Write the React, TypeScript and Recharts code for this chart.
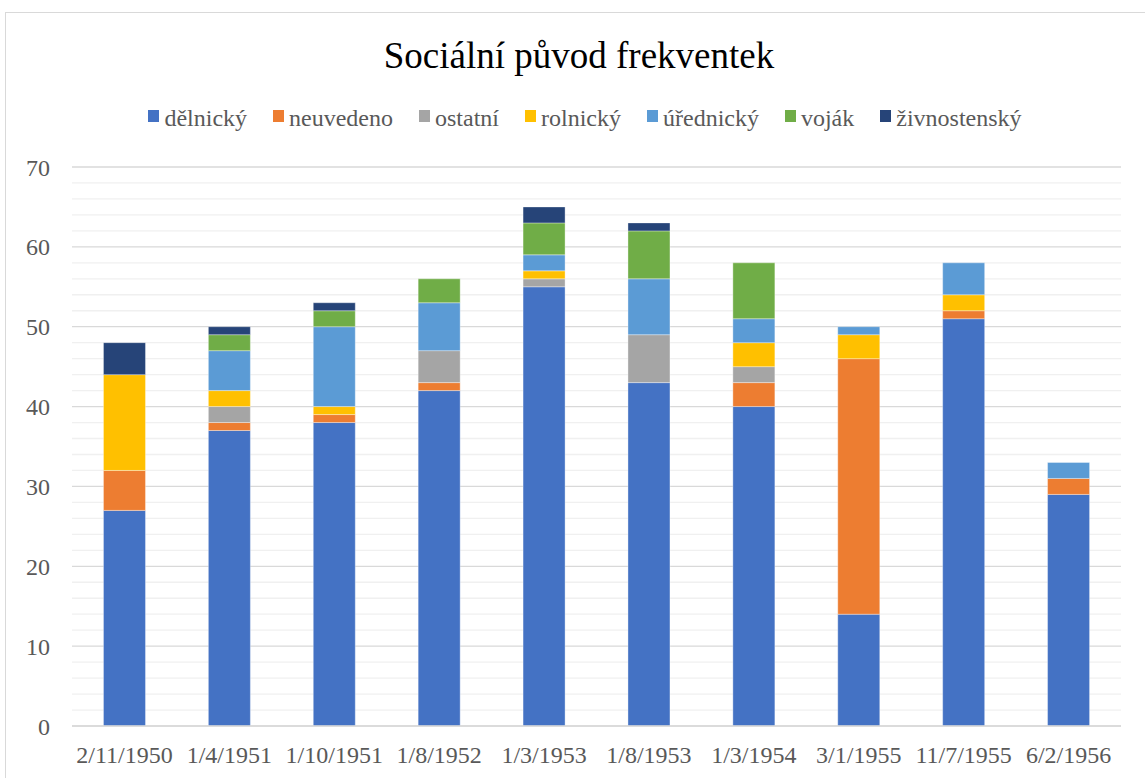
import React from 'react';
import { BarChart, Bar, XAxis, YAxis, CartesianGrid } from 'recharts';

const categories = ['2/11/1950', '1/4/1951', '1/10/1951', '1/8/1952', '1/3/1953', '1/8/1953', '1/3/1954', '3/1/1955', '11/7/1955', '6/2/1956'];
const delnicky = [27, 37, 38, 42, 55, 43, 40, 14, 51, 29];
const neuvedeno = [5, 1, 1, 1, 0, 0, 3, 32, 1, 2];
const ostatni = [0, 2, 0, 4, 1, 6, 2, 0, 0, 0];
const rolnicky = [12, 2, 1, 0, 1, 0, 3, 3, 2, 0];
const urednicky = [0, 5, 10, 6, 2, 7, 3, 1, 4, 2];
const vojak = [0, 2, 2, 3, 4, 6, 7, 0, 0, 0];
const zivnostensky = [4, 1, 1, 0, 2, 1, 0, 0, 0, 0];

const yTicks = [0, 2, 4, 6, 8, 10, 12, 14, 16, 18, 20, 22, 24, 26, 28, 30, 32, 34, 36, 38, 40, 42, 44, 46, 48, 50, 52, 54, 56, 58, 60, 62, 64, 66, 68, 70];

const seriesNames = ['dělnický', 'neuvedeno', 'ostatní', 'rolnický', 'úřednický', 'voják', 'živnostenský'];
const seriesKeys = ['delnicky', 'neuvedeno', 'ostatni', 'rolnicky', 'urednicky', 'vojak', 'zivnostensky'];
const seriesColors = ['#4472C4', '#ED7D31', '#A5A5A5', '#FFC000', '#5B9BD5', '#70AD47', '#264478'];
const seriesValues = [delnicky, neuvedeno, ostatni, rolnicky, urednicky, vojak, zivnostensky];

const FONT = "'Liberation Serif', 'Times New Roman', serif";

const gridLine = (props: any) => {
  const v = yTicks[props.index];
  const major = v !== undefined && v % 10 === 0;
  return (
    <line
      key={`g-${props.index}`}
      x1={props.x1}
      y1={props.y1}
      x2={props.x2}
      y2={props.y2}
      stroke={major ? '#d9d9d9' : '#f0f0f0'}
      strokeWidth={major ? 1.3 : 1.3}
      fill="none"
    />
  );
};

export default function App() {
  const data = categories.map((name, i) => {
    const row: Record<string, string | number> = { name };
    seriesKeys.forEach((k, s) => {
      row[k] = seriesValues[s][i];
    });
    return row;
  });

  return (
    <div style={{ position: 'absolute', left: 0, top: 0, width: 1145, height: 778, overflow: 'hidden', background: '#fff', fontFamily: FONT }}>
      <div style={{ position: 'absolute', left: 5, top: 12, width: 1170, height: 820, border: '1px solid #d9d9d9', boxSizing: 'border-box' }} />
      <div style={{ position: 'absolute', left: 0, top: 37, width: 1158, textAlign: 'center', fontSize: 37, lineHeight: 1, color: '#000' }}>
        Sociální původ frekventek
      </div>
      <div style={{ position: 'absolute', left: 0, top: 106, width: 1170, height: 24, display: 'flex', justifyContent: 'center', alignItems: 'center', fontSize: 24, lineHeight: '24px', color: '#595959' }}>
        {seriesNames.map((n, i) => (
          <div key={n} style={{ display: 'flex', alignItems: 'center', marginLeft: i === 0 ? 0 : 26 }}>
            <span style={{ display: 'inline-block', width: 11, height: 12, background: seriesColors[i], marginRight: 5, position: 'relative', top: -2 }} />
            <span>{n}</span>
          </div>
        ))}
      </div>
      <BarChart
        width={1145}
        height={778}
        data={data}
        margin={{ top: 167, right: 24, bottom: 0, left: 0 }}
        barCategoryGap="30%"
        style={{ position: 'absolute', left: 0, top: 0 }}
      >
        <CartesianGrid vertical={false} horizontal={gridLine} />
        <XAxis
          dataKey="name"
          height={52}
          tickLine={false}
          axisLine={{ stroke: '#d9d9d9', strokeWidth: 1.3 }}
          tickMargin={14}
          interval={0}
          tick={{ fill: '#595959', fontSize: 24, fontFamily: FONT }}
        />
        <YAxis
          domain={[0, 70]}
          ticks={yTicks}
          interval={0}
          width={72}
          axisLine={false}
          tickLine={false}
          tickMargin={16}
          tickFormatter={(v: number) => (v % 10 === 0 ? String(v) : '')}
          tick={{ fill: '#595959', fontSize: 24, fontFamily: FONT }}
        />
        {seriesKeys.map((k, i) => (
          <Bar
            key={k}
            dataKey={k}
            name={seriesNames[i]}
            stackId="a"
            fill={seriesColors[i]}
            stroke="rgba(255,255,255,0.35)"
            strokeWidth={1}
            isAnimationActive={false}
          />
        ))}
      </BarChart>
    </div>
  );
}
